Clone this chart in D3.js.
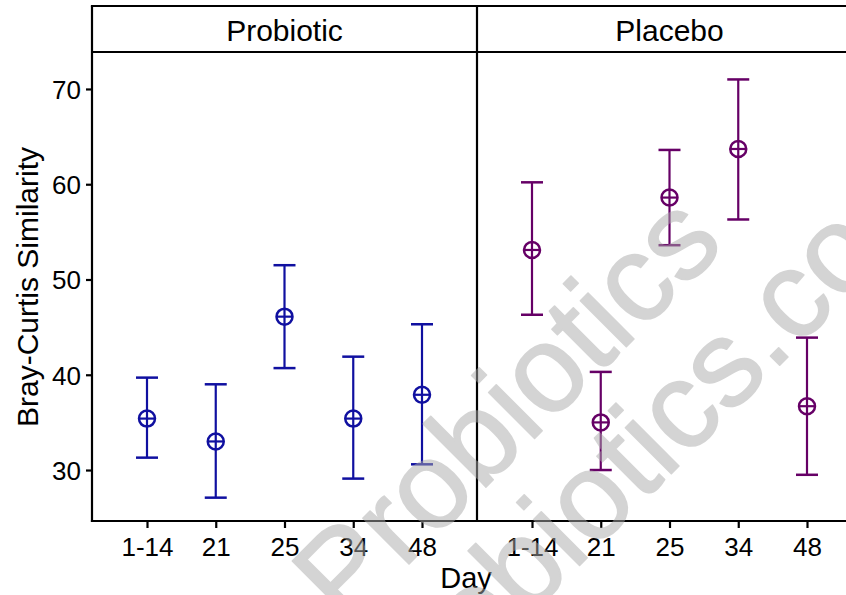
<!DOCTYPE html>
<html>
<head>
<meta charset="utf-8">
<script src="https://cdn.jsdelivr.net/npm/d3@7"></script>
<style>
  html, body { margin: 0; padding: 0; background: #fff; }
  svg { display: block; font-family: "Liberation Sans", Arial, sans-serif; }
</style>
</head>
<body>
<svg id="chart" width="846" height="595"></svg>
<script>
// ---- data ----
const days = ["1-14", "21", "25", "34", "48"];
const groups = ["Probiotic", "Placebo"];
const probioticMean  = [35.4, 33.0, 46.1, 35.4, 37.9];
const probioticUpper = [39.7, 39.0, 51.5, 41.9, 45.3];
const probioticLower = [31.3, 27.1, 40.7, 29.1, 30.6];
const placeboMean  = [53.1, 35.0, 58.6, 63.7, 36.7];
const placeboUpper = [60.2, 40.3, 63.6, 71.0, 43.9];
const placeboLower = [46.3, 30.0, 53.6, 56.3, 29.5];
const yTicks = [30, 40, 50, 60, 70];
const yLabel = "Bray-Curtis Similarity";
const xLabel = "Day";
const watermarkText = ["Probiotics", "Probiotics.com"];

const seriesData = [
  { group: "Probiotic", color: "#1010a0", mean: probioticMean, upper: probioticUpper, lower: probioticLower },
  { group: "Placebo",   color: "#660066", mean: placeboMean,   upper: placeboUpper,   lower: placeboLower }
];

// ---- layout ----
const svg = d3.select("#chart");
const left = 92, panelW = 385, stripTop = 6, plotTop = 52, plotBottom = 521;
const black = "#000", lw = 2.2;

const y = d3.scaleLinear().domain([24.65, 73.88]).range([plotBottom, plotTop]);

const xScales = groups.map((g, i) =>
  d3.scalePoint().domain(days).range([left + i * panelW, left + (i + 1) * panelW]).padding(0.8)
);

// frame lines
const frame = svg.append("g").attr("stroke", black).attr("stroke-width", lw).attr("fill", "none");
frame.append("line").attr("x1", left - lw / 2).attr("x2", 846).attr("y1", stripTop).attr("y2", stripTop);
frame.append("line").attr("x1", left).attr("x2", 846).attr("y1", plotTop).attr("y2", plotTop);
frame.append("line").attr("x1", left).attr("x2", left).attr("y1", stripTop).attr("y2", plotBottom + lw / 2);
frame.append("line").attr("x1", left + panelW).attr("x2", left + panelW).attr("y1", stripTop).attr("y2", plotBottom);

// strip titles
groups.forEach((g, i) => {
  svg.append("text")
    .attr("x", left + i * panelW + panelW / 2)
    .attr("y", 41)
    .attr("text-anchor", "middle")
    .attr("font-size", 30)
    .attr("fill", black)
    .text(g);
});

// y axis
const yAxis = d3.axisLeft(y).tickValues(yTicks).tickSize(6).tickPadding(5).tickFormat(d3.format("d"));
const gy = svg.append("g").attr("transform", `translate(${left},0)`).call(yAxis);
gy.select(".domain").remove();
gy.selectAll(".tick line").attr("stroke", black).attr("stroke-width", lw);
gy.selectAll(".tick text").attr("font-size", 26).attr("font-family", "Liberation Sans, Arial, sans-serif").attr("fill", black).attr("dy", "0.36em");

// x axes
xScales.forEach((xs, i) => {
  const ax = d3.axisBottom(xs).tickSize(7).tickPadding(10);
  const gx = svg.append("g").attr("transform", `translate(0,${plotBottom})`).call(ax);
  gx.select(".domain").remove();
  gx.selectAll(".tick line").attr("stroke", black).attr("stroke-width", lw);
  gx.selectAll(".tick text").attr("font-size", 26).attr("font-family", "Liberation Sans, Arial, sans-serif").attr("fill", black).attr("dy", "0.71em");
});
svg.append("line").attr("x1", left - lw / 2).attr("x2", 846).attr("y1", plotBottom).attr("y2", plotBottom)
  .attr("stroke", black).attr("stroke-width", lw);

// axis titles
svg.append("text")
  .attr("transform", `translate(38,287) rotate(-90)`)
  .attr("text-anchor", "middle")
  .attr("font-size", 30)
  .attr("fill", black)
  .text(yLabel);
svg.append("text")
  .attr("x", 466).attr("y", 588)
  .attr("text-anchor", "middle")
  .attr("font-size", 29)
  .attr("fill", black)
  .text(xLabel);

// error bars + markers
const capHalf = 11, r = 8;
seriesData.forEach((s, i) => {
  const xs = xScales[i];
  const pts = days.map((d, j) => ({ day: d, mean: s.mean[j], hi: s.upper[j], lo: s.lower[j] }));
  const g = svg.append("g").attr("stroke", s.color).attr("fill", "none");
  const e = g.selectAll("g.pt").data(pts).join("g").attr("class", "pt");
  e.append("line").attr("x1", d => xs(d.day)).attr("x2", d => xs(d.day))
    .attr("y1", d => y(d.hi)).attr("y2", d => y(d.lo)).attr("stroke-width", 2.2);
  e.append("line").attr("x1", d => xs(d.day) - capHalf).attr("x2", d => xs(d.day) + capHalf)
    .attr("y1", d => y(d.hi)).attr("y2", d => y(d.hi)).attr("stroke-width", 2.5);
  e.append("line").attr("x1", d => xs(d.day) - capHalf).attr("x2", d => xs(d.day) + capHalf)
    .attr("y1", d => y(d.lo)).attr("y2", d => y(d.lo)).attr("stroke-width", 2.5);
  e.append("circle").attr("cx", d => xs(d.day)).attr("cy", d => y(d.mean)).attr("r", r)
    .attr("stroke-width", 2.5);
  e.append("line").attr("x1", d => xs(d.day) - r).attr("x2", d => xs(d.day) + r)
    .attr("y1", d => y(d.mean)).attr("y2", d => y(d.mean)).attr("stroke-width", 2.2);
});

// watermark (semi-transparent overlay)
const wm = svg.append("g").attr("opacity", 0.5).attr("fill", "#aaaaaa")
  .attr("stroke", "#aaaaaa").attr("stroke-width", 1.5).attr("stroke-linejoin", "round")
  .attr("font-size", 123);
wm.append("text").attr("transform", "translate(345,628) rotate(-45)").text(watermarkText[0]);
wm.append("text").attr("transform", "translate(390,755) rotate(-45)").text(watermarkText[1]);
</script>
</body>
</html>
